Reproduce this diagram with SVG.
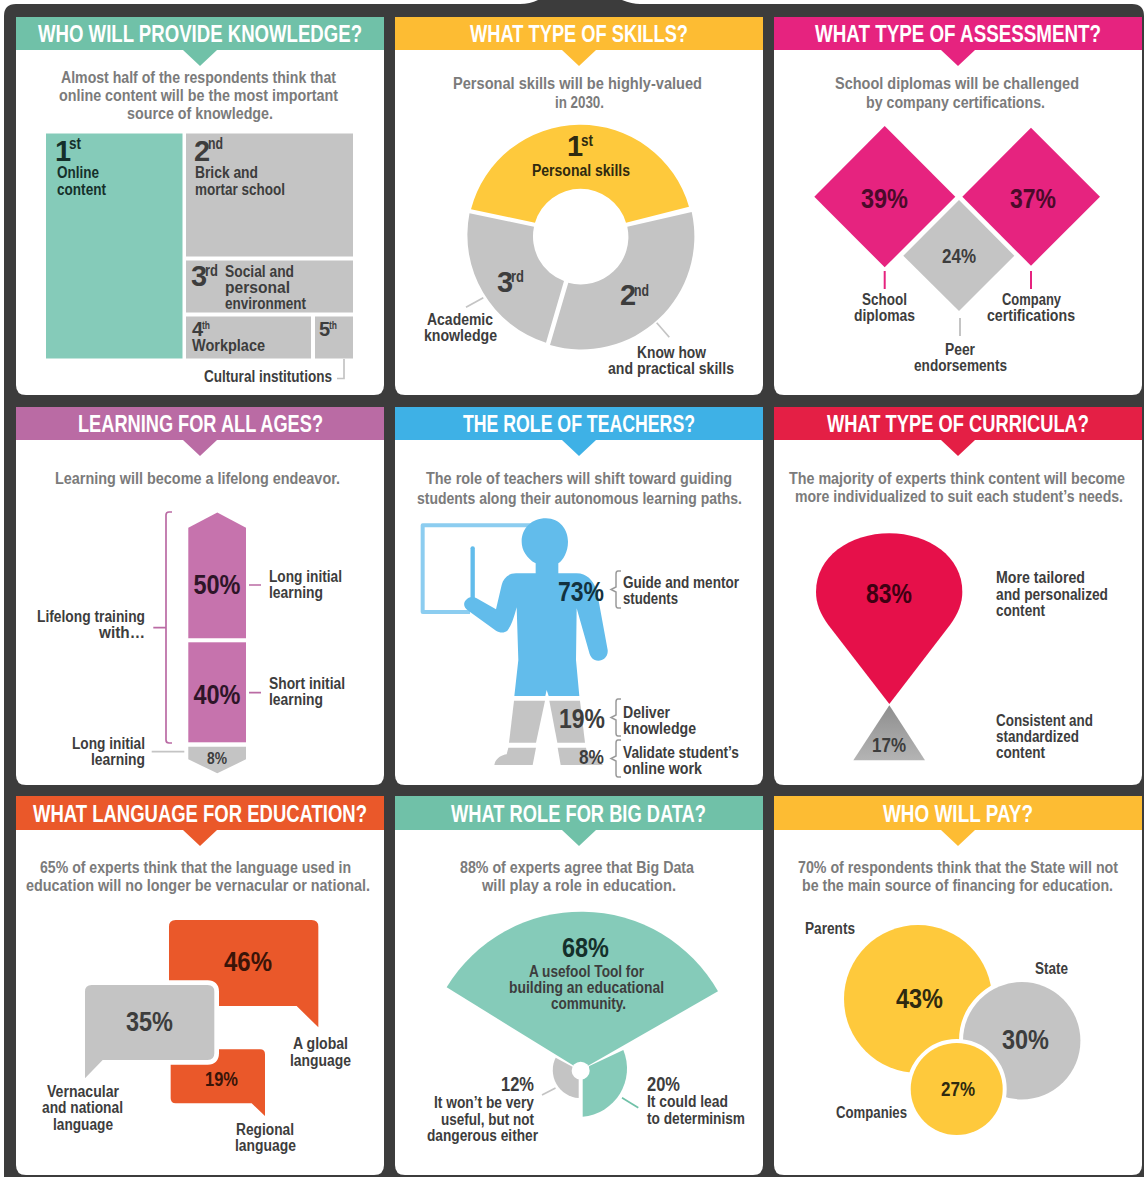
<svg xmlns="http://www.w3.org/2000/svg" width="1144" height="1177" viewBox="0 0 1144 1177">
<style>
text{font-family:"Liberation Sans Narrow","Liberation Sans",Arial,sans-serif;font-weight:700;fill:#3d3d3d}
.t{font-size:24px;fill:#fff}
.s{font-size:16px;fill:#7b7b7b}
.l{font-size:16px}
.b{font-size:29px}
.m{font-size:20px}
.n{font-size:28px}
.u{font-size:16px}
.c{fill:#fff}
.gray{fill:#c4c4c4}
.teal{fill:#85cbb9}
.dteal{fill:#15302b}
.dyel{fill:#2f2a10}
.dpink{fill:#4a0a2a}
.dpur{fill:#2e1528}
.dblue{fill:#12323f}
.dred{fill:#3f0012}
.dora{fill:#3a1408}
.ln{fill:none;stroke:#c4c4c4;stroke-width:1.7}
.pk{fill:none;stroke:#e6237f;stroke-width:2}
.pu{fill:none;stroke:#ba6ba4;stroke-width:1.7}
.br{fill:none;stroke:#9a9a9a;stroke-width:1.5}
</style>
<defs>
<linearGradient id="tri" x1="0" y1="0" x2="0" y2="1"><stop offset="0" stop-color="#8e8e8e"/><stop offset="1" stop-color="#b4b4b4"/></linearGradient>
</defs>
<rect width="1144" height="1177" fill="#fff"/>
<path d="M4 1177V16Q4 4 16 4H520Q530 4 538 0H622Q632 4 640 4H1132Q1144 4 1144 16V1177Z" fill="#3c3c3c"/>

<g id="panel-knowledge">
<path class="c" d="M16 17H384V385Q384 395 374 395H26Q16 395 16 385Z"/>
<path fill="#70c1a8" d="M16 17H384V50H217L200 66L183 50H16Z"/>
<text class="t" x="38" y="42" textLength="324" lengthAdjust="spacingAndGlyphs">WHO WILL PROVIDE KNOWLEDGE?</text>
<text class="s" x="61" y="83" textLength="275" lengthAdjust="spacingAndGlyphs">Almost half of the respondents think that</text>
<text class="s" x="59" y="101" textLength="279" lengthAdjust="spacingAndGlyphs">online content will be the most important</text>
<text class="s" x="127" y="119" textLength="146" lengthAdjust="spacingAndGlyphs">source of knowledge.</text>
<rect class="teal" x="46" y="133.5" width="136.500" height="225"/>
<rect class="gray" x="186" y="133.500" width="167" height="123"/>
<rect class="gray" x="186" y="260.500" width="167" height="52"/>
<rect class="gray" x="186" y="316.500" width="125" height="42"/>
<rect class="gray" x="315" y="316.500" width="38" height="42"/>
<text class="b dteal" x="55" y="161">1</text><text class="u dteal" x="69" y="149" textLength="12" lengthAdjust="spacingAndGlyphs">st</text>
<text class="l dteal" x="57" y="178" textLength="42" lengthAdjust="spacingAndGlyphs">Online</text>
<text class="l dteal" x="57" y="195" textLength="49" lengthAdjust="spacingAndGlyphs">content</text>
<text class="b" x="194" y="161">2</text><text class="u" x="208" y="149" textLength="15" lengthAdjust="spacingAndGlyphs">nd</text>
<text class="l" x="195" y="178" textLength="63" lengthAdjust="spacingAndGlyphs">Brick and</text>
<text class="l" x="195" y="195" textLength="90" lengthAdjust="spacingAndGlyphs">mortar school</text>
<text class="b" x="191" y="286">3</text><text class="u" x="205" y="276" textLength="13" lengthAdjust="spacingAndGlyphs">rd</text>
<text class="l" x="225" y="277" textLength="69" lengthAdjust="spacingAndGlyphs">Social and</text>
<text class="l" x="225" y="293" textLength="65" lengthAdjust="spacingAndGlyphs">personal</text>
<text class="l" x="225" y="309" textLength="81" lengthAdjust="spacingAndGlyphs">environment</text>
<text class="m" x="192" y="336">4</text><text x="202" y="329" font-size="11" textLength="8" lengthAdjust="spacingAndGlyphs">th</text>
<text class="l" x="192" y="351" textLength="73" lengthAdjust="spacingAndGlyphs">Workplace</text>
<text class="m" x="319" y="336">5</text><text x="329" y="329" font-size="11" textLength="8" lengthAdjust="spacingAndGlyphs">th</text>
<text class="l" x="204" y="382" textLength="128" lengthAdjust="spacingAndGlyphs">Cultural institutions</text>
</g>

<g id="panel-skills">
<path class="c" d="M395 17H763V385Q763 395 753 395H405Q395 395 395 385Z"/>
<path fill="#fdbc33" d="M395 17H763V50H596L579 66L562 50H395Z"/>
<text class="t" x="470" y="42" textLength="218" lengthAdjust="spacingAndGlyphs">WHAT TYPE OF SKILLS?</text>
<text class="s" x="453" y="89" textLength="249" lengthAdjust="spacingAndGlyphs">Personal skills will be highly-valued</text>
<text class="s" x="555" y="108" textLength="49" lengthAdjust="spacingAndGlyphs">in 2030.</text>
<path fill="#fec93c" d="M471 209.300A113 113 0 0 1 689 206.700L626 222.700A47.500 47.500 0 0 0 535 222.700Z"/>
<path class="gray" d="M691.700 212A113 113 0 0 1 550 345L568.300 282.700A47.500 47.500 0 0 0 627.300 226.700Z"/>
<path class="gray" d="M469.500 213.300A113 113 0 0 0 546 342.700L564 281A47.500 47.500 0 0 1 534 226.700Z"/>
<text class="b dyel" x="567" y="156">1</text><text class="u dyel" x="581" y="146" textLength="12" lengthAdjust="spacingAndGlyphs">st</text>
<text class="l dyel" x="532" y="176" textLength="98" lengthAdjust="spacingAndGlyphs">Personal skills</text>
<text class="b" x="497" y="292">3</text><text class="u" x="511" y="282" textLength="13" lengthAdjust="spacingAndGlyphs">rd</text>
<text class="b" x="620" y="305">2</text><text class="u" x="634" y="296" textLength="15" lengthAdjust="spacingAndGlyphs">nd</text>
<text class="l" x="427" y="325" textLength="66" lengthAdjust="spacingAndGlyphs">Academic</text>
<text class="l" x="424" y="341" textLength="73" lengthAdjust="spacingAndGlyphs">knowledge</text>
<text class="l" x="637" y="358" textLength="69" lengthAdjust="spacingAndGlyphs">Know how</text>
<text class="l" x="608" y="374" textLength="126" lengthAdjust="spacingAndGlyphs">and practical skills</text>
</g>

<g id="panel-assessment">
<path class="c" d="M774 17H1142V385Q1142 395 1132 395H784Q774 395 774 385Z"/>
<path fill="#e6237f" d="M774 17H1142V50H975L958 66L941 50H774Z"/>
<text class="t" x="815" y="42" textLength="286" lengthAdjust="spacingAndGlyphs">WHAT TYPE OF ASSESSMENT?</text>
<text class="s" x="835" y="89" textLength="244" lengthAdjust="spacingAndGlyphs">School diplomas will be challenged</text>
<text class="s" x="866" y="108" textLength="179" lengthAdjust="spacingAndGlyphs">by company certifications.</text>
<path fill="#e6237f" d="M814.300 196.700L884.700 126L955.300 196.700L884.700 267.300Z"/>
<path fill="#e6237f" d="M962.300 196.700L1031 127.700L1100 196.700L1031 265.700Z"/>
<path class="gray" d="M959 200L1014.300 255.700L959 311L903.300 255.700Z"/>
<text class="n dpink" x="861" y="208" textLength="47" lengthAdjust="spacingAndGlyphs">39%</text>
<text class="n dpink" x="1010" y="208" textLength="46" lengthAdjust="spacingAndGlyphs">37%</text>
<text class="m" x="942" y="263" textLength="34" lengthAdjust="spacingAndGlyphs">24%</text>
<text class="l" x="862" y="305" textLength="45" lengthAdjust="spacingAndGlyphs">School</text>
<text class="l" x="854" y="321" textLength="61" lengthAdjust="spacingAndGlyphs">diplomas</text>
<text class="l" x="1002" y="305" textLength="59" lengthAdjust="spacingAndGlyphs">Company</text>
<text class="l" x="987" y="321" textLength="88" lengthAdjust="spacingAndGlyphs">certifications</text>
<text class="l" x="945" y="355" textLength="30" lengthAdjust="spacingAndGlyphs">Peer</text>
<text class="l" x="914" y="371" textLength="93" lengthAdjust="spacingAndGlyphs">endorsements</text>
</g>

<g id="panel-ages">
<path class="c" d="M16 407H384V775Q384 785 374 785H26Q16 785 16 775Z"/>
<path fill="#ba6ba4" d="M16 407H384V440H217L200 456L183 440H16Z"/>
<text class="t" x="78" y="432" textLength="245" lengthAdjust="spacingAndGlyphs">LEARNING FOR ALL AGES?</text>
<text class="s" x="55" y="484" textLength="285" lengthAdjust="spacingAndGlyphs">Learning will become a lifelong endeavor.</text>
<path fill="#c673ad" d="M188.300 527.700L217.300 512.500L246 527.700V638.300H188.300Z"/>
<rect fill="#c673ad" x="188.300" y="642.300" width="57.700" height="100"/>
<path class="gray" d="M188.300 746.700H246V759.300L217.300 773.300L188.300 759.300Z"/>
<text class="n dpur" x="193.500" y="594" textLength="47" lengthAdjust="spacingAndGlyphs">50%</text>
<text class="n dpur" x="193.500" y="704" textLength="47" lengthAdjust="spacingAndGlyphs">40%</text>
<text class="u" x="207" y="764" textLength="20" lengthAdjust="spacingAndGlyphs">8%</text>
<text class="l" x="269" y="582" textLength="73" lengthAdjust="spacingAndGlyphs">Long initial</text>
<text class="l" x="269" y="598" textLength="54" lengthAdjust="spacingAndGlyphs">learning</text>
<text class="l" x="269" y="689" textLength="76" lengthAdjust="spacingAndGlyphs">Short initial</text>
<text class="l" x="269" y="705" textLength="54" lengthAdjust="spacingAndGlyphs">learning</text>
<text class="l" x="37" y="622" textLength="108" lengthAdjust="spacingAndGlyphs">Lifelong training</text>
<text class="l" x="99" y="638" textLength="46" lengthAdjust="spacingAndGlyphs">with…</text>
<text class="l" x="72" y="749" textLength="73" lengthAdjust="spacingAndGlyphs">Long initial</text>
<text class="l" x="91" y="765" textLength="54" lengthAdjust="spacingAndGlyphs">learning</text>
</g>

<g id="panel-teachers">
<path class="c" d="M395 407H763V775Q763 785 753 785H405Q395 785 395 775Z"/>
<path fill="#3eb1e6" d="M395 407H763V440H596L579 456L562 440H395Z"/>
<text class="t" x="463" y="432" textLength="232" lengthAdjust="spacingAndGlyphs">THE ROLE OF TEACHERS?</text>
<text class="s" x="426" y="484" textLength="306" lengthAdjust="spacingAndGlyphs">The role of teachers will shift toward guiding</text>
<text class="s" x="417" y="504" textLength="325" lengthAdjust="spacingAndGlyphs">students along their autonomous learning paths.</text>
<g transform="translate(390 400) scale(.33333)">
<path d="M440 376H98V636H240" fill="none" stroke="#8ccdf0" stroke-width="12" stroke-linejoin="round"/>
<path d="M248 445V600" fill="none" stroke="#62bceb" stroke-width="13" stroke-linecap="round"/>
<path fill="#62bceb" d="M437 520V490C410 475 395 450 395 425C395 385 425 355 468 355C510 355 534 390 534 425C534 455 520 480 505 490V520H560C590 520 608 540 620 570L653 750C655 770 640 782 625 782C610 782 600 770 597 755L560 625L558 780L568 888H476L470 870L466 888H373L385 780L380 622C370 660 362 680 352 692C342 700 328 698 318 692L235 632C222 625 218 610 228 600C236 590 248 588 260 595L318 628L335 555C340 535 355 520 378 520Z"/>
<path class="gray" d="M372 902H465L438 1028H357Z"/>
<path class="gray" d="M478 902H570L585 1028H502Z"/>
<path class="gray" d="M355 1043H438L428 1095H313C316 1075 335 1065 350 1063Z"/>
<path class="gray" d="M503 1043H588L592 1063C615 1068 632 1080 638 1095H512Z"/>
</g>
<text class="n dblue" x="558" y="601" textLength="46" lengthAdjust="spacingAndGlyphs">73%</text>
<text class="n" x="559" y="728" textLength="46" lengthAdjust="spacingAndGlyphs">19%</text>
<text x="579" y="764" font-size="21" textLength="25" lengthAdjust="spacingAndGlyphs">8%</text>
<text class="l" x="623" y="588" textLength="116" lengthAdjust="spacingAndGlyphs">Guide and mentor</text>
<text class="l" x="623" y="604" textLength="55" lengthAdjust="spacingAndGlyphs">students</text>
<text class="l" x="623" y="718" textLength="47" lengthAdjust="spacingAndGlyphs">Deliver</text>
<text class="l" x="623" y="734" textLength="73" lengthAdjust="spacingAndGlyphs">knowledge</text>
<text class="l" x="623" y="758" textLength="116" lengthAdjust="spacingAndGlyphs">Validate student’s</text>
<text class="l" x="623" y="774" textLength="79" lengthAdjust="spacingAndGlyphs">online work</text>
</g>

<g id="panel-curricula">
<path class="c" d="M774 407H1142V775Q1142 785 1132 785H784Q774 785 774 775Z"/>
<path fill="#e41f45" d="M774 407H1142V440H975L958 456L941 440H774Z"/>
<text class="t" x="827" y="432" textLength="262" lengthAdjust="spacingAndGlyphs">WHAT TYPE OF CURRICULA?</text>
<text class="s" x="789" y="484" textLength="336" lengthAdjust="spacingAndGlyphs">The majority of experts think content will become</text>
<text class="s" x="795" y="502" textLength="328" lengthAdjust="spacingAndGlyphs">more individualized to suit each student’s needs.</text>
<g transform="translate(770 400) scale(.33333)">
<path fill="#e6104a" d="M358 912L175 675C150 640 138 610 138 575C138 470 240 400 358 400C476 400 577 470 577 575C577 610 565 640 540 675Z"/>
<path fill="url(#tri)" d="M358 916L465 1081H250Z"/>
</g>
<text class="n dred" x="866" y="603" textLength="46" lengthAdjust="spacingAndGlyphs">83%</text>
<text class="m" x="872" y="752" textLength="34" lengthAdjust="spacingAndGlyphs">17%</text>
<text class="l" x="996" y="583" textLength="89" lengthAdjust="spacingAndGlyphs">More tailored</text>
<text class="l" x="996" y="600" textLength="112" lengthAdjust="spacingAndGlyphs">and personalized</text>
<text class="l" x="996" y="616" textLength="49" lengthAdjust="spacingAndGlyphs">content</text>
<text class="l" x="996" y="726" textLength="97" lengthAdjust="spacingAndGlyphs">Consistent and</text>
<text class="l" x="996" y="742" textLength="83" lengthAdjust="spacingAndGlyphs">standardized</text>
<text class="l" x="996" y="758" textLength="49" lengthAdjust="spacingAndGlyphs">content</text>
</g>

<g id="panel-language">
<path class="c" d="M16 796H384V1165Q384 1175 374 1175H26Q16 1175 16 1165Z"/>
<path fill="#ea582a" d="M16 796H384V830H217L200 846L183 830H16Z"/>
<text class="t" x="33" y="822" textLength="334" lengthAdjust="spacingAndGlyphs">WHAT LANGUAGE FOR EDUCATION?</text>
<text class="s" x="40" y="873" textLength="311" lengthAdjust="spacingAndGlyphs">65% of experts think that the language used in</text>
<text class="s" x="26" y="891" textLength="344" lengthAdjust="spacingAndGlyphs">education will no longer be vernacular or national.</text>
<g transform="translate(0 790) scale(.33333)">
<path fill="#ea582a" d="M527 390H935Q955 390 955 410V712L890 648H527Q507 648 507 628V410Q507 390 527 390Z"/>
<path fill="#ea582a" d="M527 778H780Q795 778 795 793V978L755 940H527Q512 940 512 925V793Q512 778 527 778Z"/>
<path class="gray" stroke="#fff" stroke-width="28" paint-order="stroke" d="M275 585H623Q643 585 643 605V790Q643 810 623 810H308L255 865V605Q255 585 275 585Z"/>
</g>
<text class="n dora" x="224" y="971" textLength="48" lengthAdjust="spacingAndGlyphs">46%</text>
<text class="n" x="126" y="1031" textLength="47" lengthAdjust="spacingAndGlyphs">35%</text>
<text class="m dora" x="205" y="1086" textLength="33" lengthAdjust="spacingAndGlyphs">19%</text>
<text class="l" x="293" y="1049" textLength="55" lengthAdjust="spacingAndGlyphs">A global</text>
<text class="l" x="290" y="1066" textLength="61" lengthAdjust="spacingAndGlyphs">language</text>
<text class="l" x="47" y="1097" textLength="72" lengthAdjust="spacingAndGlyphs">Vernacular</text>
<text class="l" x="42" y="1113" textLength="81" lengthAdjust="spacingAndGlyphs">and national</text>
<text class="l" x="53" y="1130" textLength="60" lengthAdjust="spacingAndGlyphs">language</text>
<text class="l" x="236" y="1135" textLength="58" lengthAdjust="spacingAndGlyphs">Regional</text>
<text class="l" x="235" y="1151" textLength="61" lengthAdjust="spacingAndGlyphs">language</text>
</g>

<g id="panel-bigdata">
<path class="c" d="M395 796H763V1165Q763 1175 753 1175H405Q395 1175 395 1165Z"/>
<path fill="#70c1a8" d="M395 796H763V830H596L579 846L562 830H395Z"/>
<text class="t" x="451" y="822" textLength="255" lengthAdjust="spacingAndGlyphs">WHAT ROLE FOR BIG DATA?</text>
<text class="s" x="460" y="873" textLength="234" lengthAdjust="spacingAndGlyphs">88% of experts agree that Big Data</text>
<text class="s" x="482" y="891" textLength="194" lengthAdjust="spacingAndGlyphs">will play a role in education.</text>
<g transform="translate(390 790) scale(.33333)">
<path class="teal" d="M170 592A472 472 0 0 1 984 604L572 840Z"/>
<path class="teal" d="M598 828L700 780A145 145 0 0 1 578 980V860Z"/>
<path class="gray" d="M497 803L550 832L566 860V924A84 84 0 0 1 497 803Z"/>
<circle cx="572" cy="842" r="27" fill="#fff"/>
</g>
<text class="n dteal" x="562" y="957" textLength="47" lengthAdjust="spacingAndGlyphs">68%</text>
<text class="l" x="529" y="977" textLength="115" lengthAdjust="spacingAndGlyphs">A usefool Tool for</text>
<text class="l" x="509" y="993" textLength="155" lengthAdjust="spacingAndGlyphs">building an educational</text>
<text class="l" x="551" y="1009" textLength="75" lengthAdjust="spacingAndGlyphs">community.</text>
<text class="m" x="501" y="1091" textLength="33" lengthAdjust="spacingAndGlyphs">12%</text>
<text class="l" x="434" y="1108" textLength="100" lengthAdjust="spacingAndGlyphs">It won’t be very</text>
<text class="l" x="441" y="1125" textLength="93" lengthAdjust="spacingAndGlyphs">useful, but not</text>
<text class="l" x="427" y="1141" textLength="111" lengthAdjust="spacingAndGlyphs">dangerous either</text>
<text class="m" x="647" y="1091" textLength="33" lengthAdjust="spacingAndGlyphs">20%</text>
<text class="l" x="647" y="1107" textLength="81" lengthAdjust="spacingAndGlyphs">It could lead</text>
<text class="l" x="647" y="1124" textLength="98" lengthAdjust="spacingAndGlyphs">to determinism</text>
</g>

<g id="panel-pay">
<path class="c" d="M774 796H1142V1165Q1142 1175 1132 1175H784Q774 1175 774 1165Z"/>
<path fill="#fdbc33" d="M774 796H1142V830H975L958 846L941 830H774Z"/>
<text class="t" x="883" y="822" textLength="150" lengthAdjust="spacingAndGlyphs">WHO WILL PAY?</text>
<text class="s" x="798" y="873" textLength="320" lengthAdjust="spacingAndGlyphs">70% of respondents think that the State will not</text>
<text class="s" x="802" y="891" textLength="311" lengthAdjust="spacingAndGlyphs">be the main source of financing for education.</text>
<circle cx="918" cy="999" r="74" fill="#fec93c"/>
<circle class="gray" cx="1021.700" cy="1040.700" r="58.700" stroke="#fff" stroke-width="8" paint-order="stroke"/>
<circle cx="956.700" cy="1089" r="46" fill="#fec93c" stroke="#fff" stroke-width="8" paint-order="stroke"/>
<text class="n dyel" x="896" y="1008" textLength="47" lengthAdjust="spacingAndGlyphs">43%</text>
<text class="n" x="1002" y="1049" textLength="47" lengthAdjust="spacingAndGlyphs">30%</text>
<text class="m dyel" x="941" y="1096" textLength="34" lengthAdjust="spacingAndGlyphs">27%</text>
<text class="l" x="805" y="934" textLength="50" lengthAdjust="spacingAndGlyphs">Parents</text>
<text class="l" x="1035" y="974" textLength="33" lengthAdjust="spacingAndGlyphs">State</text>
<text class="l" x="836" y="1118" textLength="71" lengthAdjust="spacingAndGlyphs">Companies</text>
</g>

<g id="connectors">
<path class="ln" d="M344 359V378.500H337"/>
<path class="ln" d="M466 307.300L483.300 297.700"/>
<path class="ln" d="M656.700 322.700L669.300 337.300"/>
<path class="pk" d="M884.700 271V289"/>
<path class="pk" d="M1031 271V289"/>
<path class="ln" style="stroke-width:2" d="M960 318V336"/>
<path class="pu" d="M172 512H169Q166 512 166 515V740Q166 743 169 743H172M153.300 627.700H166"/>
<path class="pu" d="M249 585H261M249 692.700H261"/>
<path class="ln" d="M151.700 751.700H184.300"/>
<path class="br" d="M621 571H618Q616 571 616 574V587L611 589.500L616 592V605Q616 608 618 608H621"/>
<path class="br" d="M621 699H618Q616 699 616 702V715L611 717.500L616 720V733Q616 736 618 736H621"/>
<path class="br" d="M621 740H618Q616 740 616 743V756L611 758.500L616 761V774Q616 777 618 777H621"/>
<path class="ln" d="M542 1095L555.500 1088"/>
<path fill="none" stroke="#70c1a8" stroke-width="1.700" d="M622 1097.700L638.300 1107.700"/>
</g>
</svg>
